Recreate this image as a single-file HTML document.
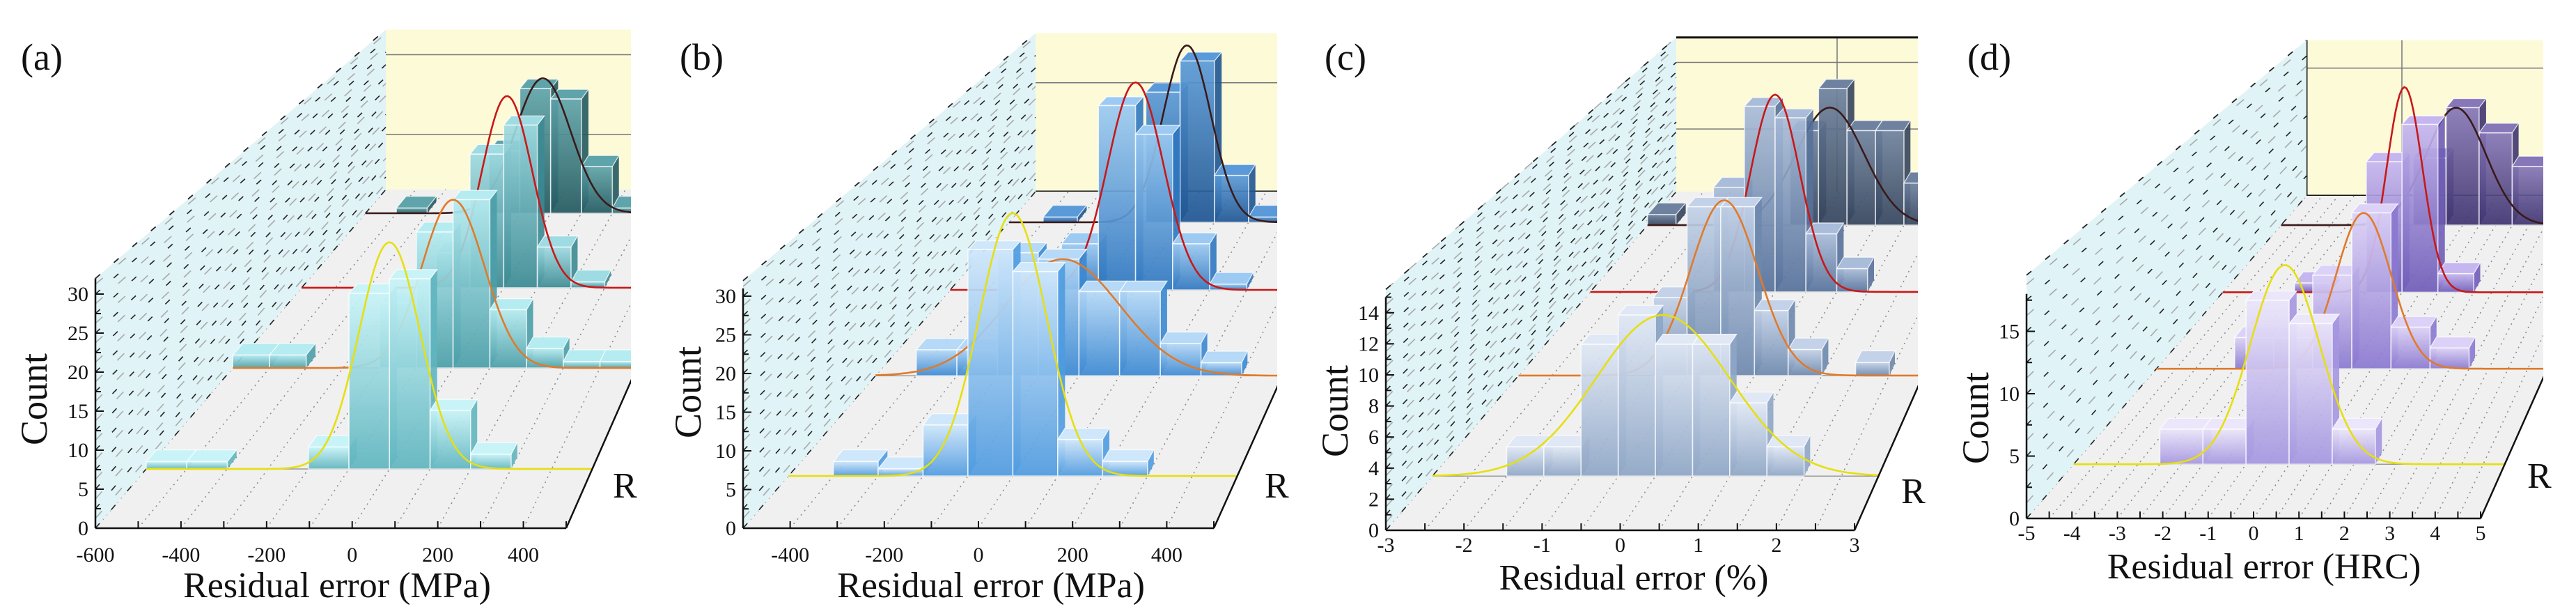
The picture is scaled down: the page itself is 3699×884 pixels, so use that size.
<!DOCTYPE html>
<html><head><meta charset="utf-8">
<style>
html,body{margin:0;padding:0;background:#fff;}
svg{display:block;}
svg text{font-family:"Liberation Serif","DejaVu Serif",serif;}
</style></head>
<body>
<svg id="chart" width="3699" height="884" viewBox="0 0 3699 884" xmlns="http://www.w3.org/2000/svg" font-family="Liberation Serif, DejaVu Serif, serif"></svg>
<script>
// ---------- DATA ----------
// panel (a) MPa, bins of 100 starting at -600
const binStartA = -600, binWidthA = 100;
const countsA_s1 = [1,1,0,0,3,24,26,8,2,0,0];
const countsA_s2 = [2,2,0,0,10,21,26,9,3,1,1];
const countsA_s3 = [0,0,0,0,6,23,28,7,1,0,0];
const countsA_s4 = [0,1,0,0,12,24,22,9,1,0,0];
const fitMuA = [0,0,10,-25];
const fitSigmaA = [75,85,75,90];
const fitPeakA = [31,26,33,26];
const xTicksA = [-600,-400,-200,0,200,400];
const yTicksA = [0,5,10,15,20,25,30];

// panel (b) MPa, bins of 100 starting at -500
const binStartB = -500, binWidthB = 100;
const countsB_s1 = [0,2,1,7,31,28,5,2,0,0];
const countsB_s2 = [0,4,4,19,18,13,13,5,2,0];
const countsB_s3 = [0,0,0,8,32,27,8,1,0,0];
const countsB_s4 = [0,1,0,0,25,31,9,1,0,0];
const fitMuB = [0,-40,0,20];
const fitSigmaB = [75,140,75,70];
const fitPeakB = [36,18,36,34];
const xTicksB = [-400,-200,0,200,400];
const yTicksB = [0,5,10,15,20,25,30];

// panel (c) %, bins of 0.5 starting at -3
const binStartC = -3, binWidthC = 0.5;
const countsC_s1 = [0,0,2,2,9,11,9,9,5,2,0,0];
const countsC_s2 = [0,0,0,0,6,13,13,5,2,0,1,0];
const countsC_s3 = [0,0,0,0,9,16,15,5,2,0,0,0];
const countsC_s4 = [1,0,0,0,0,9,13,9,9,4,4,0];
const fitMuC = [0.1,0.05,0.0,0.2];
const fitSigmaC = [0.9,0.5,0.4,0.6];
const fitPeakC = [11,13.5,17,11.2];
const xTicksC = [-3,-2,-1,0,1,2,3];
const yTicksC = [0,2,4,6,8,10,12,14];

// panel (d) HRC, bins of 1 starting at -5
const binStartD = -5, binWidthD = 1;
const countsD_s1 = [0,0,3,3,14,12,3,0,0,0];
const countsD_s2 = [0,0,3,3,9,15,4,2,0,0];
const countsD_s3 = [0,0,1,0,14,18,2,0,0,0];
const countsD_s4 = [0,0,0,0,8,14,11,7,0,0];
const fitMuD = [-0.1,0.3,0.07,0.3];
const fitSigmaD = [0.8,0.7,0.5,0.9];
const fitPeakD = [17,15,22,14];
const xTicksD = [-5,-4,-3,-2,-1,0,1,2,3,4,5];
const yTicksD = [0,5,10,15];

// ---------- GEOMETRY ----------
const NS = "http://www.w3.org/2000/svg";
const FONT = "Liberation Serif, DejaVu Serif, serif";
const svg = document.getElementById('chart');
const defs = document.createElementNS(NS,'defs');
svg.appendChild(defs);
function el(tag, attrs, parent){
  const e = document.createElementNS(NS, tag);
  for (const k in attrs) e.setAttribute(k, attrs[k]);
  if (tag === 'text') e.setAttribute('font-family', FONT);
  (parent||svg).appendChild(e);
  return e;
}
const curveColors = ['#e6df10','#e07a2a','#c81818','#3a1a1a'];

const panels = [
 {key:'a', label:'(a)', unit:'Residual error (MPa)', left:0, clip:906, fx:137, fy:758, dx:417, dy:-486, fw:676, ky:11.2, xmin:-600, xmax:500, wallMax:32, axisMax:32, minor:2.5, xMinorStep:100,
  zs:[0.175,0.473,0.710,0.930], binStart:binStartA, binWidth:binWidthA, counts:[countsA_s1,countsA_s2,countsA_s3,countsA_s4],
  mu:fitMuA, sigma:fitSigmaA, peak:fitPeakA, xTicks:xTicksA, yTicks:yTicksA,
  labelPos:[30,100], countPos:[49,573], unitPos:[484,857], rPos:[880,714], tickY:806,
  grads:[['#c8f4f8','#5fb5bf'],['#b5ecf1','#4a9ea8'],['#9fdbe2','#3b8a93'],['#5fa4ab','#22595f']],
  backLines:[11,27], backV:[], backBorder:[]},
 {key:'b', label:'(b)', unit:'Residual error (MPa)', left:925, clip:1834, fx:1067, fy:758, dx:420, dy:-483, fw:676, ky:11.1, xmin:-500, xmax:500, wallMax:32, axisMax:31, minor:2.5, xMinorStep:100,
  zs:[0.155,0.453,0.708,0.909], binStart:binStartB, binWidth:binWidthB, counts:[countsB_s1,countsB_s2,countsB_s3,countsB_s4],
  mu:fitMuB, sigma:fitSigmaB, peak:fitPeakB, xTicks:xTicksB, yTicks:yTicksB,
  labelPos:[976,100], countPos:[988,563], unitPos:[1423,857], rPos:[1816,714], tickY:806,
  grads:[['#cfe7fb','#4f9be0'],['#b5d9f7','#3a88d2'],['#9ccaf2','#2f77c0'],['#5a9ad8','#1e5592']],
  backLines:[22], backV:[], backBorder:['bottom']},
 {key:'c', label:'(c)', unit:'Residual error (%)', left:1845, clip:2754, fx:1990, fy:761, dx:417, dy:-486, fw:673, ky:22.3, xmin:-3, xmax:3, wallMax:15.5, axisMax:15, minor:1, xMinorStep:0.5,
  zs:[0.16,0.457,0.704,0.901], binStart:binStartC, binWidth:binWidthC, counts:[countsC_s1,countsC_s2,countsC_s3,countsC_s4],
  mu:fitMuC, sigma:fitSigmaC, peak:fitPeakC, xTicks:xTicksC, yTicks:yTicksC,
  labelPos:[1902,100], countPos:[1917,590], unitPos:[2346,846], rPos:[2730,722], tickY:792,
  grads:[['#e0e8f5','#8ea6c6'],['#c3d2e8','#6d88ad'],['#a9bcd9','#56719a'],['#6e82a0','#34445c']],
  backLines:[6.3,13], backV:[2638], backBorder:['top']},
 {key:'d', label:'(d)', unit:'Residual error (HRC)', left:2745, clip:3652, fx:2910, fy:744, dx:402, dy:-463, fw:652, ky:17.9, xmin:-5, xmax:5, wallMax:19.5, axisMax:18, minor:2.5, xMinorStep:0.5,
  zs:[0.168,0.464,0.701,0.909], binStart:binStartD, binWidth:binWidthD, counts:[countsD_s1,countsD_s2,countsD_s3,countsD_s4],
  mu:fitMuD, sigma:fitSigmaD, peak:fitPeakD, xTicks:xTicksD, yTicks:yTicksD,
  labelPos:[2825,100], countPos:[2837,600], unitPos:[3251,830], rPos:[3629,700], tickY:775,
  grads:[['#ece6fb','#a596e0'],['#dcd2f7','#8a78d0'],['#c5b6f0','#6f5cb8'],['#8677b8','#3f3470']],
  backLines:[16], backV:[3449], backBorder:['left','bottom']}
];

function proj(g,x,c,z){
  const sx = 1-0.30*z, sy = 1-0.36*z;
  return [g.fx + g.dx*z + (x-g.xmin)/(g.xmax-g.xmin)*g.fw*sx, g.fy + g.dy*z - c*g.ky*sy];
}
function pts(arr){ return arr.map(p=>p[0].toFixed(1)+','+p[1].toFixed(1)).join(' '); }

panels.forEach(g=>{
  const cp = el('clipPath',{id:'clip-'+g.key}, defs);
  el('rect',{x:g.left,y:0,width:g.clip-g.left,height:884},cp);
  g.grads.forEach((gc,i)=>{
    const lg = el('linearGradient',{id:'grad-'+g.key+i,x1:0,y1:0,x2:0,y2:1},defs);
    el('stop',{offset:'0','stop-color':gc[0]},lg);
    el('stop',{offset:'1','stop-color':gc[1]},lg);
  });

  const grp = el('g',{'clip-path':'url(#clip-'+g.key+')'});
  
  

  // back wall
  const bw = el('polygon',{points:pts([proj(g,g.xmin,0,1),[g.clip+50,proj(g,g.xmin,0,1)[1]],[g.clip+50,proj(g,g.xmin,g.wallMax,1)[1]],proj(g,g.xmin,g.wallMax,1)]),fill:'#fdfad8'},grp);
  
  
  g.backLines.forEach(c=>{
    const p = proj(g,g.xmin,c,1);
    el('line',{x1:p[0],y1:p[1],x2:g.clip,y2:p[1],stroke:'#777','stroke-width':1.5},grp);
  });
  g.backV.forEach(x=>{
    el('line',{x1:x,y1:proj(g,g.xmin,g.wallMax,1)[1],x2:x,y2:proj(g,g.xmin,0,1)[1],stroke:'#777','stroke-width':1.5},grp);
  });
  g.backBorder.forEach(s=>{
    const b0 = proj(g,g.xmin,0,1), t0 = proj(g,g.xmin,g.wallMax,1);
    if(s==='bottom') el('line',{x1:b0[0],y1:b0[1],x2:g.clip,y2:b0[1],stroke:'#111','stroke-width':3},grp);
    if(s==='top') el('line',{x1:t0[0],y1:t0[1],x2:g.clip,y2:t0[1],stroke:'#111','stroke-width':3},grp);
    if(s==='left') el('line',{x1:b0[0],y1:b0[1],x2:t0[0],y2:t0[1],stroke:'#111','stroke-width':3},grp);
  });

  // floor
  const fl = el('polygon',{points:pts([proj(g,g.xmin,0,0),proj(g,g.xmax,0,0),proj(g,g.xmax,0,1),proj(g,g.xmin,0,1)]),fill:'#f0f0f0'},grp);
  
  
  for(let x=g.xmin; x<=g.xmax+1e-9; x+=g.xMinorStep){
    const a=proj(g,x,0,0), b=proj(g,x,0,1);
    el('line',{x1:a[0],y1:a[1],x2:b[0],y2:b[1],stroke:'#888','stroke-width':1.5,'stroke-dasharray':'2 6'},grp);
  }

  // side wall
  const sw = el('polygon',{points:pts([proj(g,g.xmin,0,0),proj(g,g.xmin,g.wallMax,0),proj(g,g.xmin,g.wallMax,1),proj(g,g.xmin,0,1)]),fill:'#e0f3f6'},grp);
  
  
  for(let c=0; c<=g.wallMax+1e-9; c+=g.minor/2){
    const a=proj(g,g.xmin,c,0), b=proj(g,g.xmin,c,1);
    const major = Math.abs(c/g.minor - Math.round(c/g.minor))<1e-6;
    el('line',{x1:a[0],y1:a[1],x2:b[0],y2:b[1],stroke:major?'#222':'#aaa','stroke-width':1.6,'stroke-dasharray':major?'9 26':'14 30'},grp);
  }
  {
    const a=proj(g,g.xmin,g.wallMax,0), b=proj(g,g.xmin,g.wallMax,1);
    el('line',{x1:a[0],y1:a[1],x2:b[0],y2:b[1],stroke:'#222','stroke-width':1.8,'stroke-dasharray':'9 26'},grp);
  }

  // series back to front
  for(let s=3; s>=0; s--){
    const z = g.zs[s], z2 = z+0.035;
    const sg = el('g',{},grp);
    
    
    const b0=proj(g,g.xmin,0,z), b1=proj(g,g.xmax,0,z);
    el('line',{x1:b0[0],y1:b0[1],x2:b1[0],y2:b1[1],stroke:'#9a9a9a','stroke-width':1.5},sg);
    g.counts[s].forEach((n,i)=>{
      if(n<=0) return;
      const x0 = g.binStart + i*g.binWidth, x1 = x0 + g.binWidth;
      const bar = el('g',{},sg);
      
      
      el('polygon',{points:pts([proj(g,x1,0,z),proj(g,x1,n,z),proj(g,x1,n,z2),proj(g,x1,0,z2)]),fill:g.grads[s][1],opacity:0.9},bar);
      el('polygon',{points:pts([proj(g,x0,n,z),proj(g,x1,n,z),proj(g,x1,n,z2),proj(g,x0,n,z2)]),fill:g.grads[s][0],stroke:'rgba(255,255,255,0.8)','stroke-width':1.2},bar);
      el('polygon',{points:pts([proj(g,x0,0,z),proj(g,x1,0,z),proj(g,x1,n,z),proj(g,x0,n,z)]),fill:'url(#grad-'+g.key+s+')',stroke:'rgba(255,255,255,0.75)','stroke-width':1.6,opacity:0.92},bar);
    });
    const cpts=[];
    for(let k=0;k<=160;k++){
      const x = g.xmin + (g.xmax-g.xmin)*k/160;
      const c = g.peak[s]*Math.exp(-0.5*Math.pow((x-g.mu[s])/g.sigma[s],2));
      cpts.push(proj(g,x,c,z));
    }
    const cv = el('polyline',{points:pts(cpts),fill:'none',stroke:curveColors[s],'stroke-width':2.6},sg);
    
    
  }

  // R axis
  {
    const a=proj(g,g.xmax,0,0), b=proj(g,g.xmax,0,1);
    el('line',{x1:a[0],y1:a[1],x2:b[0],y2:b[1],stroke:'#111','stroke-width':2.5},grp);
  }

  // y axis
  const ya = el('g',{});
  
  
  const yTop = proj(g,g.xmin,g.axisMax,0);
  el('line',{x1:g.fx,y1:g.fy,x2:g.fx,y2:yTop[1],stroke:'#111','stroke-width':2.5},ya);
  for(let c=0;c<=g.axisMax+1e-9;c+=g.minor){
    const p=proj(g,g.xmin,c,0);
    el('line',{x1:g.fx,y1:p[1],x2:g.fx+8,y2:p[1],stroke:'#111','stroke-width':2},ya);
  }
  g.yTicks.forEach(v=>{
    const p=proj(g,g.xmin,v,0);
    el('line',{x1:g.fx,y1:p[1],x2:g.fx+12,y2:p[1],stroke:'#111','stroke-width':2},ya);
    const t=el('text',{x:g.fx-10,y:p[1]+10,'text-anchor':'end','font-size':30,fill:'#111'},ya);
    t.textContent=v;
    
    
  });

  // x axis
  const xa = el('g',{});
  
  
  const xr = proj(g,g.xmax,0,0);
  el('line',{x1:g.fx,y1:g.fy,x2:xr[0],y2:g.fy,stroke:'#111','stroke-width':2.5},xa);
  for(let x=g.xmin;x<=g.xmax+1e-9;x+=g.xMinorStep){
    const p=proj(g,x,0,0);
    el('line',{x1:p[0],y1:g.fy,x2:p[0],y2:g.fy-10,stroke:'#111','stroke-width':2},xa);
  }
  g.xTicks.forEach(v=>{
    const p=proj(g,v,0,0);
    const t=el('text',{x:p[0],y:g.tickY,'text-anchor':'middle','font-size':30,fill:'#111'},xa);
    t.textContent=v;
    
    
  });

  // titles
  const pl = el('text',{x:g.labelPos[0],y:g.labelPos[1],'font-size':54,fill:'#111'});
  pl.textContent=g.label;
  
  
  const ct = el('text',{x:g.countPos[0],y:g.countPos[1],'font-size':54,fill:'#111','text-anchor':'middle',transform:'rotate(-90 '+g.countPos[0]+' '+g.countPos[1]+')','dominant-baseline':'central'});
  ct.textContent='Count';
  
  
  const ut = el('text',{x:g.unitPos[0],y:g.unitPos[1],'font-size':52,fill:'#111','text-anchor':'middle'});
  ut.textContent=g.unit;
  
  
  const rt = el('text',{x:g.rPos[0],y:g.rPos[1],'font-size':52,fill:'#111'});
  rt.textContent='R';
  
  
});
</script>
</body></html>
